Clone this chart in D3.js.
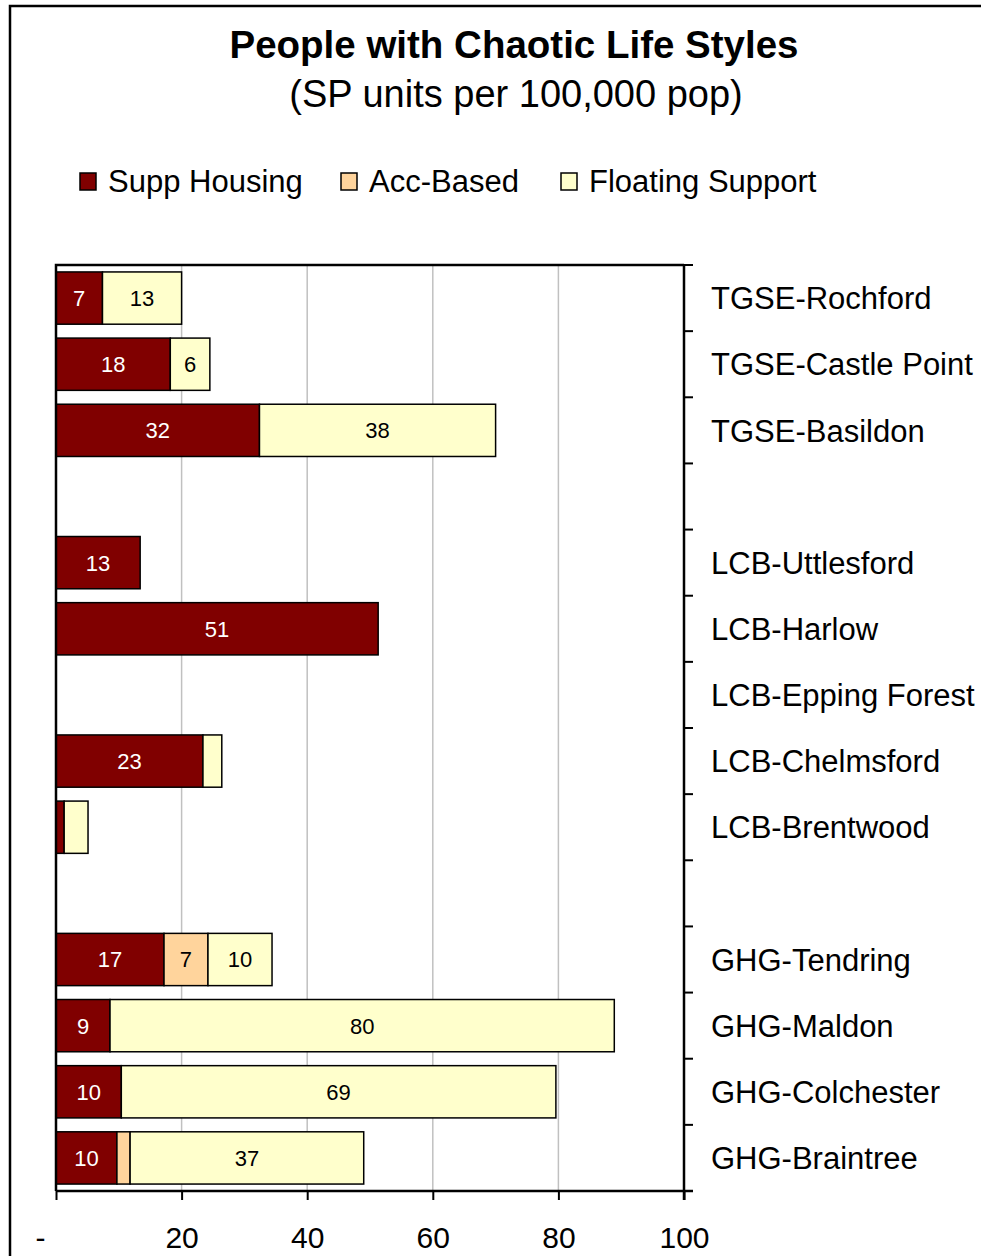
<!DOCTYPE html>
<html>
<head>
<meta charset="utf-8">
<script src="https://cdn.jsdelivr.net/npm/d3@7"></script>
<style>
  body { margin: 0; background: #fff; }
  text { font-family: "Liberation Sans", Arial, sans-serif; }
</style>
</head>
<body>
<div id="chart"></div>
<script>
const categories = ['TGSE-Rochford', 'TGSE-Castle Point', 'TGSE-Basildon', '',
  'LCB-Uttlesford', 'LCB-Harlow', 'LCB-Epping Forest', 'LCB-Chelmsford', 'LCB-Brentwood', '',
  'GHG-Tendring', 'GHG-Maldon', 'GHG-Colchester', 'GHG-Braintree'];
const suppHousing = [7.4, 18.2, 32.4, 0, 13.4, 51.3, 0, 23.4, 1.3, 0, 17.2, 8.6, 10.4, 9.7];
const accBased = [0, 0, 0, 0, 0, 0, 0, 0, 0, 0, 7.0, 0, 0, 2.1];
const floatingSupport = [12.6, 6.3, 37.6, 0, 0, 0, 0, 3.0, 3.8, 0, 10.2, 80.3, 69.2, 37.2];
const xTicks = [0, 20, 40, 60, 80, 100];

const seriesNames = ['Supp Housing', 'Acc-Based', 'Floating Support'];
const colors = ['#800000', '#FFD49C', '#FFFFCC'];
const labelColors = ['#fff', '#000', '#000'];

const W = 981, H = 1256;
const plot = { left: 56, right: 684, top: 265, bottom: 1191 };

const svg = d3.select('#chart')
  .append('svg')
  .attr('width', W)
  .attr('height', H);

// outer chart border (runs off the page right/bottom)
svg.append('rect')
  .attr('x', 10).attr('y', 6)
  .attr('width', 1100).attr('height', 1400)
  .attr('fill', '#fff')
  .attr('stroke', '#000')
  .attr('stroke-width', 2.5);

// title
svg.append('text')
  .attr('x', 514).attr('y', 58)
  .attr('text-anchor', 'middle')
  .style('font-size', '38.5px')
  .style('font-weight', 'bold')
  .text('People with Chaotic Life Styles');
svg.append('text')
  .attr('x', 516).attr('y', 107)
  .attr('text-anchor', 'middle')
  .style('font-size', '38px')
  .text('(SP units per 100,000 pop)');

// legend
const legendX = [80, 341, 561];
const legend = svg.append('g')
  .selectAll('g')
  .data(seriesNames)
  .enter()
  .append('g')
    .attr('transform', (d, i) => `translate(${legendX[i]},0)`);
legend.append('rect')
  .attr('x', 0).attr('y', 173)
  .attr('width', 16).attr('height', 17)
  .attr('fill', (d, i) => colors[i])
  .attr('stroke', '#000')
  .attr('stroke-width', 1.5);
legend.append('text')
  .attr('x', 28).attr('y', 192)
  .style('font-size', '31px')
  .text((d) => d);

const x = d3.scaleLinear()
  .domain([0, 100])
  .range([plot.left, plot.right]);

const y = d3.scaleBand()
  .domain(d3.range(categories.length))
  .range([plot.top, plot.bottom])
  .paddingInner(0.21)
  .paddingOuter(0.105);

// gridlines
svg.append('g')
  .selectAll('line')
  .data(xTicks.filter((t) => t > 0 && t < 100))
  .enter()
  .append('line')
    .attr('x1', (d) => x(d)).attr('x2', (d) => x(d))
    .attr('y1', plot.top).attr('y2', plot.bottom)
    .attr('stroke', '#c0c0c0')
    .attr('stroke-width', 1.5);

// stacked data
const rows = categories.map((c, i) => ({
  i, name: c, values: [suppHousing[i], accBased[i], floatingSupport[i]],
}));
const stack = d3.stack()
  .keys([0, 1, 2])
  .value((d, k) => d.values[k]);
const layers = stack(rows);

const layerG = svg.append('g')
  .selectAll('g')
  .data(layers)
  .enter()
  .append('g')
    .attr('fill', (d, k) => colors[k]);

layerG.selectAll('rect')
  .data((d) => d.filter((s) => s[1] - s[0] > 0))
  .enter()
  .append('rect')
    .attr('x', (s) => x(s[0]))
    .attr('y', (s) => y(s.data.i))
    .attr('width', (s) => x(s[1]) - x(s[0]))
    .attr('height', y.bandwidth())
    .attr('stroke', '#000')
    .attr('stroke-width', 1.5);

layerG.selectAll('text')
  .data((d, k) => d.filter((s) => s[1] - s[0] >= 5).map((s) => ({ s, k })))
  .enter()
  .append('text')
    .attr('x', (d) => (x(d.s[0]) + x(d.s[1])) / 2)
    .attr('y', (d) => y(d.s.data.i) + y.bandwidth() / 2)
    .attr('dy', '0.36em')
    .attr('text-anchor', 'middle')
    .attr('fill', (d) => labelColors[d.k])
    .style('font-size', '22px')
    .text((d) => d3.format('.0f')(d.s[1] - d.s[0]));

// plot area frame: top + left
svg.append('path')
  .attr('d', `M${plot.left},${plot.bottom}V${plot.top}H${plot.right}`)
  .attr('fill', 'none')
  .attr('stroke', '#000')
  .attr('stroke-width', 2.5);

// bottom axis
const xAxis = svg.append('g')
  .attr('transform', `translate(0,${plot.bottom})`)
  .call(d3.axisBottom(x)
    .tickValues(xTicks)
    .tickSize(9)
    .tickFormat((d) => (d === 0 ? '-' : d)));
xAxis.select('.domain').attr('stroke-width', 2.5).attr('d', `M${plot.left},0H${plot.right + 9}`);
xAxis.selectAll('.tick line').attr('stroke-width', 2);
xAxis.selectAll('.tick text')
  .attr('y', 57)
  .attr('dy', 0)
  .attr('fill', '#000')
  .style('font-family', '"Liberation Sans", Arial, sans-serif')
  .style('font-size', '30px')
  .attr('dx', (d) => (d === 0 ? -16 : 0));

// right category axis: ticks at band boundaries
const step = (plot.bottom - plot.top) / categories.length;
const rightAxis = svg.append('g');
rightAxis.append('line')
  .attr('x1', plot.right).attr('x2', plot.right)
  .attr('y1', plot.top).attr('y2', plot.bottom + 9)
  .attr('stroke', '#000')
  .attr('stroke-width', 2.5);
rightAxis.selectAll('line.tk')
  .data(d3.range(categories.length + 1))
  .enter()
  .append('line')
    .attr('class', 'tk')
    .attr('x1', plot.right).attr('x2', plot.right + 9)
    .attr('y1', (d) => plot.top + d * step)
    .attr('y2', (d) => plot.top + d * step)
    .attr('stroke', '#000')
    .attr('stroke-width', 2);
rightAxis.selectAll('text')
  .data(rows)
  .enter()
  .append('text')
    .attr('x', 711)
    .attr('y', (d) => y(d.i) + y.bandwidth() / 2)
    .attr('dy', '0.36em')
    .style('font-size', '31px')
    .text((d) => d.name);
</script>
</body>
</html>
